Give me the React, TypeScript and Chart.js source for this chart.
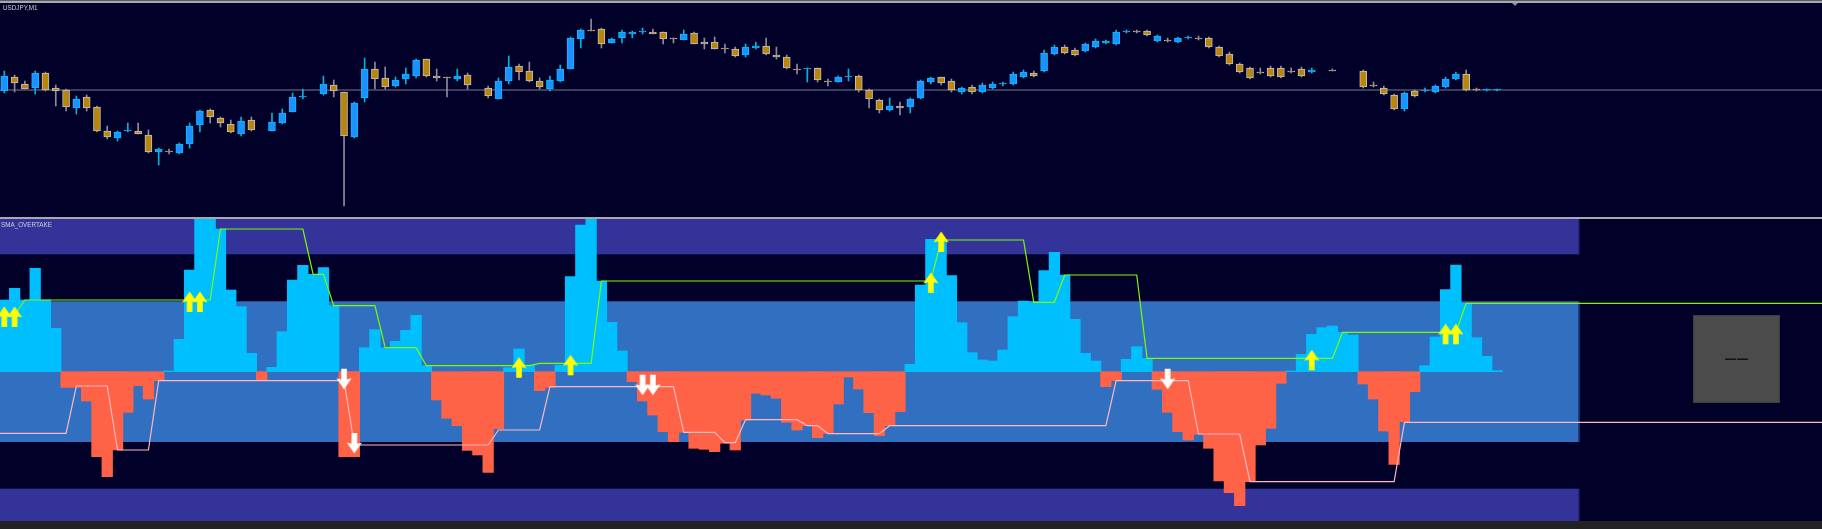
import React, { useEffect, useRef } from "react";
import { Chart, registerables } from "chart.js";
Chart.register(...registerables);

// ---------------- data ----------------
const symbolLabel = "USDJPY,M1";
const indicatorLabel = "SMA_OVERTAKE";
const panelText = "——";

// null = no visible candle at that bar
const openP = [
110.213,110.227,110.220,110.216,110.231,110.216,110.214,110.196,110.207,110.197,
110.173,110.166,110.173,110.173,110.169,110.152,110.153,110.151,110.160,110.179,
110.194,110.186,110.180,110.170,110.184,null,110.173,110.181,110.192,110.207,
null,110.210,110.219,110.212,110.167,110.206,110.235,110.226,110.218,110.225,
110.228,110.245,110.228,110.227,110.225,110.229,null,110.216,110.205,110.223,
110.238,110.233,110.223,110.215,110.223,110.235,110.265,110.274,110.275,110.261,
110.266,110.270,110.272,110.272,110.272,110.266,110.264,110.271,110.262,110.262,
110.256,110.255,110.249,110.256,110.258,110.249,110.247,110.235,110.235,110.236,
110.223,110.222,110.227,110.228,110.214,110.204,110.194,110.198,110.197,110.206,
110.222,110.227,110.223,110.212,110.217,110.212,110.216,110.220,110.220,110.227,
110.231,110.233,110.250,110.257,110.254,110.253,110.257,110.261,110.260,110.272,
110.273,110.273,110.263,110.264,110.262,110.266,110.266,110.266,110.257,110.250,
110.240,110.236,110.232,110.236,110.236,110.233,110.235,110.232,null,110.234,
null,null,110.233,110.219,110.216,110.209,110.195,110.213,110.213,110.212,
110.217,110.225,110.230,110.215,110.214,110.214];
const highP = [
110.233,110.229,110.223,110.233,110.232,110.219,110.215,110.208,110.209,110.198,
110.178,110.173,110.181,110.181,110.174,110.156,110.155,110.161,110.181,110.194,
110.195,110.187,110.184,110.187,110.187,null,110.191,110.195,110.211,110.215,
null,110.228,110.224,110.212,110.202,110.246,110.242,110.237,110.227,110.236,
110.245,110.245,110.235,110.227,110.235,110.231,null,110.218,110.226,110.248,
110.240,110.242,110.226,110.228,110.239,110.267,110.275,110.285,110.276,110.266,
110.274,110.273,110.276,110.275,110.272,110.266,110.274,110.272,110.266,110.267,
110.260,110.257,110.260,110.262,110.266,110.257,110.249,110.240,110.236,110.236,
110.225,110.228,110.235,110.229,110.215,110.205,110.206,110.202,110.206,110.224,
110.227,110.227,110.225,110.217,110.219,110.221,110.222,110.222,110.232,110.234,
110.233,110.254,110.259,110.259,110.256,110.261,110.265,110.264,110.274,110.274,
110.274,110.274,110.269,110.266,110.267,110.268,110.268,110.267,110.258,110.252,
110.241,110.237,110.236,110.238,110.238,110.236,110.237,110.236,null,110.235,
null,null,110.234,110.222,110.218,110.210,110.212,110.214,110.216,110.219,
110.227,110.232,110.234,110.216,110.215,110.215];
const lowP = [
110.211,110.212,110.215,110.210,110.213,110.198,110.193,110.190,110.193,110.172,
110.165,110.163,110.172,110.170,110.151,110.139,110.150,110.150,110.156,110.172,
110.181,110.177,110.171,110.168,110.173,null,110.173,110.180,110.192,110.205,
null,110.209,110.207,110.098,110.166,110.202,110.215,110.215,110.217,110.220,
110.226,110.227,110.223,110.207,110.223,110.215,null,110.206,110.205,110.220,
110.224,110.222,110.215,110.213,110.222,110.235,110.256,110.273,110.256,110.261,
110.261,110.266,110.270,110.270,110.260,110.261,110.264,110.260,110.255,110.255,
110.251,110.247,110.247,110.255,110.249,110.245,110.235,110.230,110.222,110.222,
110.218,110.222,110.223,110.212,110.196,110.191,110.193,110.189,110.191,110.205,
110.220,110.219,110.212,110.210,110.210,110.211,110.215,110.218,110.219,110.226,
110.227,110.232,110.249,110.250,110.248,110.252,110.256,110.260,110.259,110.271,
110.271,110.268,110.262,110.262,110.261,110.265,110.264,110.256,110.247,110.239,
110.231,110.225,110.230,110.227,110.226,110.231,110.227,110.231,null,110.233,
null,null,110.216,110.217,110.209,110.194,110.193,110.207,110.212,110.211,
110.216,110.224,110.213,110.213,110.213,110.213];
const closeP = [
110.228,110.221,110.215,110.231,110.214,110.213,110.197,110.205,110.196,110.173,
110.167,110.172,110.174,110.170,110.152,110.155,110.152,110.160,110.178,110.193,
110.187,110.181,110.172,110.183,110.174,null,110.182,110.191,110.207,110.208,
null,110.220,110.213,110.168,110.201,110.235,110.225,110.217,110.224,110.230,
110.244,110.228,110.226,110.226,110.228,110.219,null,110.208,110.223,110.237,
110.232,110.223,110.217,110.224,110.235,110.266,110.274,110.273,110.260,110.265,
110.272,110.272,110.273,110.270,110.265,110.265,110.270,110.260,110.260,110.255,
110.255,110.248,110.257,110.258,110.250,110.247,110.236,110.234,110.236,110.224,
110.222,110.227,110.228,110.214,110.205,110.194,110.198,110.196,110.205,110.223,
110.226,110.221,110.214,110.216,110.212,110.219,110.220,110.221,110.230,110.232,
110.228,110.251,110.257,110.251,110.249,110.260,110.263,110.263,110.272,110.273,
110.272,110.269,110.268,110.263,110.266,110.267,110.265,110.257,110.248,110.240,
110.232,110.226,110.231,110.228,110.227,110.232,110.228,110.234,null,110.233,
null,null,110.217,110.218,110.210,110.195,110.211,110.208,110.214,110.218,
110.225,110.230,110.214,110.214,110.215,110.215];
const bidPrice = 110.214;

const histogram = [
71.7,83.4,71.7,103.4,71.7,43.4,-15.7,-15.7,-29.3,-85,
-105,-78.3,-40.6,-14,-27.3,-9,0.7,32.4,101.7,155,
155,142.7,81.7,65,18.4,-9,4.4,40,91.7,106.4,
97.4,104,66,-85,-85,24,42,24,30.4,41.4,
56.4,6,-28.3,-46.6,-54,-78.6,-83.3,-100.6,-57,4,
22.7,6.7,-19,-15.7,6.7,95,146.7,155,90.7,49.4,
20.7,-10,-29.3,-43.3,-60,-70,-60.6,-76.6,-77.6,-80,
-71.6,-78.3,-48.3,-21.6,-23.3,-26.6,-50.6,-58.3,-54,-66,
-61.6,-32.3,-5.3,-17.3,-41,-64,-54,-40,7.4,86.7,
132.4,132.4,96,49,19,11.7,10.7,21.7,55,70.7,
70,101,119.4,96.7,52.4,18.4,10.7,-15,-9,12.4,
25,13.4,-17.6,-40.6,-60,-68.3,-62.6,-76.6,-109.3,-121,
-134,-110,-73.3,-56.6,-11.6,0.7,17.4,37.4,44,45.7,
39.4,36.7,-12.3,-27.3,-59.3,-92.6,-50,-20,6,34.7,
82,106.7,68.4,34,15.4,1];

const greenLine = [
56.7,56.7,71.7,71.7,71.7,71.7,71.7,71.7,71.7,71.7,
71.7,71.7,71.7,71.7,71.7,71.7,71.7,71.7,71.7,71.7,
71.7,142.7,142.7,142.7,142.7,142.7,142.7,142.7,142.7,142.7,
97.4,97.4,66,66,66,66,66,24,24,24,
24,6,6,6,6,6,6,6,6,6,
6,6,8.4,8.4,8.4,8.4,8.4,8.4,90.7,90.7,
90.7,90.7,90.7,90.7,90.7,90.7,90.7,90.7,90.7,90.7,
90.7,90.7,90.7,90.7,90.7,90.7,90.7,90.7,90.7,90.7,
90.7,90.7,90.7,90.7,90.7,90.7,90.7,90.7,90.7,90.7,
90.7,131.7,131.7,131.7,131.7,131.7,131.7,131.7,131.7,131.7,
69.4,69.4,69.4,96.7,96.7,96.7,96.7,96.7,96.7,96.7,
96.7,13.4,13.4,13.4,13.4,13.4,13.4,13.4,13.4,13.4,
13.4,13.4,13.4,13.4,13.4,13.4,13.4,13.4,13.4,13.4,
39.4,39.4,39.4,39.4,39.4,39.4,39.4,39.4,39.4,39.4,
39.4,39.4,68.4,68.4,68.4,68.4];

const pinkLine = [
-61.6,-61.6,-61.6,-61.6,-61.6,-61.6,-61.6,-14.3,-14.3,-14.3,
-14.3,-78.3,-78.3,-78.3,-78.3,-9,-9,-9,-9,-9,
-9,-9,-9,-9,-9,-9,-9,-9,-9,-9,
-9,-9,-9,-9,-73.3,-73.3,-73.3,-73.3,-73.3,-73.3,
-73.3,-73.3,-73.3,-73.3,-73.3,-73.3,-73.3,-73.3,-58.3,-58.3,
-58.3,-58.3,-58.3,-15,-15,-15,-15,-15,-15,-15,
-15,-15,-15,-15,-15,-15,-60.6,-60.6,-60.6,-60.6,
-71,-71,-48,-48,-48,-48,-48,-48,-54,-54,
-62,-62,-62,-62,-62,-62,-54,-54,-54,-54,
-54,-54,-54,-54,-54,-54,-54,-54,-54,-54,
-54,-54,-54,-54,-54,-54,-54,-54,-9,-9,
-9,-9,-9,-9,-9,-9,-62.3,-62.3,-62.3,-62.3,
-62.3,-110,-110,-110,-110,-110,-110,-110,-110,-110,
-110,-110,-110,-110,-110,-110,-50.6,-50.6,-50.6,-50.6,
-50.6,-50.6,-50.6,-50.6,-50.6,-50.6];

const upSignals = [0, 1, 18, 19, 50, 55, 90, 91, 127, 140, 141];
const downSignals = [33, 34, 62, 63, 113];

const bandLevels = [117.7, 70.4, -70.3, -117.3];
const bandEndBar = 153;

// ---------------- layout / style ----------------
const W = 1822;
const H = 529;
const STEP = 10.295;
const FIRST_X = 4.3;
const X_MIN = -FIRST_X / STEP;
const X_MAX = X_MIN + W / STEP;
const TOP_Y = 4;
const TOP_H = 212;
const IND_Y = 219;
const IND_H = 302;
const PRICE_MAX = 110.3;
const PRICE_MIN = 110.088;
const IND_MAX = 152.7;
const IND_MIN = -149.3;

const BG = "#000028";
const BULL_FILL = "#1E90FF";
const BULL_EDGE = "#00BFFF";
const BEAR_FILL = "#B8860B";
const BEAR_EDGE = "#C8C0C0";
const BULL_WICK = "#00B4D8";
const BEAR_WICK = "#9088A0";

function makeArrow(color: string, up: boolean): HTMLCanvasElement {
  const c = document.createElement("canvas");
  c.width = 18;
  c.height = 44;
  const ctx = c.getContext("2d")!;
  const cx = 9;
  const cy = 22;
  const s = up ? 1 : -1;
  ctx.fillStyle = color;
  ctx.beginPath();
  ctx.moveTo(cx, cy - 8.5 * s);
  ctx.lineTo(cx + 7.6, cy + 2.5 * s);
  ctx.lineTo(cx + 2.8, cy + 1.2 * s);
  ctx.lineTo(cx + 2.8, cy + 12 * s);
  ctx.lineTo(cx - 2.8, cy + 12 * s);
  ctx.lineTo(cx - 2.8, cy + 1.2 * s);
  ctx.lineTo(cx - 7.6, cy + 2.5 * s);
  ctx.closePath();
  ctx.fill();
  return c;
}

const bandsPlugin = {
  id: "bands",
  beforeDatasetsDraw(chart: any) {
    const { ctx, chartArea, scales } = chart;
    const x = scales.x;
    const y = scales.y;
    const x0 = chartArea.left;
    const x1 = x.getPixelForValue(bandEndBar);
    const yA = y.getPixelForValue(bandLevels[0]);
    const yB = y.getPixelForValue(bandLevels[1]);
    const yC = y.getPixelForValue(bandLevels[2]);
    const yD = y.getPixelForValue(bandLevels[3]);
    ctx.save();
    ctx.fillStyle = "#333399";
    ctx.fillRect(x0, chartArea.top, x1 - x0, yA - chartArea.top);
    ctx.fillRect(x0, yD, x1 - x0, chartArea.bottom - yD);
    ctx.fillStyle = "#3170C0";
    ctx.fillRect(x0, yB, x1 - x0, yC - yB);
    ctx.strokeStyle = "rgba(20,30,90,0.6)";
    ctx.lineWidth = 1;
    ctx.beginPath();
    ctx.moveTo(x0, Math.round(yA) + 0.5); ctx.lineTo(x1, Math.round(yA) + 0.5);
    ctx.moveTo(x0, Math.round(yD) - 0.5); ctx.lineTo(x1, Math.round(yD) - 0.5);
    ctx.moveTo(Math.round(x1) - 0.5, chartArea.top); ctx.lineTo(Math.round(x1) - 0.5, yA);
    ctx.moveTo(Math.round(x1) - 0.5, yD); ctx.lineTo(Math.round(x1) - 0.5, chartArea.bottom);
    ctx.moveTo(Math.round(x1) - 0.5, yB); ctx.lineTo(Math.round(x1) - 0.5, yC);
    ctx.stroke();
    ctx.restore();
  },
};

export default function App() {
  const topRef = useRef<HTMLCanvasElement>(null);
  const indRef = useRef<HTMLCanvasElement>(null);

  useEffect(() => {
    const upArrow = makeArrow("#FFFF00", true);
    const downArrow = makeArrow("#FFFFFF", false);
    const idx = openP.map((o, i) => i).filter((i) => openP[i] !== null);
    const bull = (i: number) => (closeP[i] as number) >= (openP[i] as number);

    const xScale = {
      type: "linear",
      min: X_MIN,
      max: X_MAX,
      display: false,
      offset: false,
      grid: { offset: false, display: false },
    };

    const commonOptions = {
      responsive: false,
      animation: false,
      devicePixelRatio: 1,
      events: [],
      layout: { padding: 0, autoPadding: false },
      plugins: { legend: { display: false }, tooltip: { enabled: false } },
    };

    const topChart = new Chart(topRef.current!, {
      type: "bar",
      data: {
        datasets: [
          {
            type: "bar",
            data: idx.map((i) => ({ x: i, y: [openP[i], closeP[i]] })),
            backgroundColor: idx.map((i) => (bull(i) ? BULL_FILL : BEAR_FILL)),
            borderColor: idx.map((i) => (bull(i) ? BULL_EDGE : BEAR_EDGE)),
            borderWidth: 1,
            borderSkipped: false,
            barThickness: 7,
            minBarLength: 1,
            grouped: false,
            order: 1,
          },
          {
            type: "bar",
            data: idx.map((i) => ({ x: i, y: [lowP[i], highP[i]] })),
            backgroundColor: idx.map((i) => (bull(i) ? BULL_WICK : BEAR_WICK)),
            borderWidth: 0,
            barThickness: 1,
            minBarLength: 1,
            grouped: false,
            order: 2,
          },
          {
            type: "line",
            data: [
              { x: X_MIN, y: bidPrice },
              { x: X_MAX, y: bidPrice },
            ],
            borderColor: "#7a7a8c",
            borderWidth: 1,
            pointRadius: 0,
            order: 3,
          },
        ],
      } as any,
      options: {
        ...commonOptions,
        scales: {
          x: xScale as any,
          y: { type: "linear", min: PRICE_MIN, max: PRICE_MAX, display: false, grid: { display: false } },
        },
      } as any,
    });

    // lines run from the left edge of the window to the right edge
    const ext = (arr: number[]) => [
      { x: X_MIN, y: arr[0] },
      ...arr.map((v, i) => ({ x: i, y: v })),
      { x: X_MAX, y: arr[arr.length - 1] },
    ];

    const indChart = new Chart(indRef.current!, {
      type: "bar",
      data: {
        datasets: [
          {
            type: "line",
            data: upSignals.map((i) => ({ x: i, y: greenLine[i] })),
            showLine: false,
            pointStyle: upArrow,
            pointRadius: 8,
            order: 0,
          },
          {
            type: "line",
            data: downSignals.map((i) => ({ x: i, y: pinkLine[i] })),
            showLine: false,
            pointStyle: downArrow,
            pointRadius: 8,
            order: 0,
          },
          {
            type: "line",
            data: ext(greenLine),
            borderColor: "#7CFC00",
            borderWidth: 1.2,
            pointRadius: 0,
            tension: 0,
            order: 1,
          },
          {
            type: "line",
            data: ext(pinkLine),
            borderColor: "#FFB6C1",
            borderWidth: 1.2,
            pointRadius: 0,
            tension: 0,
            order: 1,
          },
          {
            type: "bar",
            data: histogram.map((v, i) => ({ x: i, y: v })),
            backgroundColor: histogram.map((v) => (v >= 0 ? "#00BFFF" : "#FF6347")),
            borderWidth: 0,
            barThickness: STEP + 0.3,
            grouped: false,
            order: 2,
          },
        ],
      } as any,
      options: {
        ...commonOptions,
        scales: {
          x: xScale as any,
          y: { type: "linear", min: IND_MIN, max: IND_MAX, display: false, grid: { display: false } },
        },
      } as any,
      plugins: [bandsPlugin],
    });

    return () => {
      topChart.destroy();
      indChart.destroy();
    };
  }, []);

  const labelStyle: React.CSSProperties = {
    position: "absolute",
    fontFamily: '"Liberation Sans", Arial, sans-serif',
    fontSize: "6.3px",
    lineHeight: "6px",
    color: "#d0d0d8",
    whiteSpace: "nowrap",
  };

  return (
    <div
      style={{
        position: "absolute",
        left: 0,
        top: 0,
        width: W,
        height: H,
        background: BG,
        overflow: "hidden",
      }}
    >
      <div style={{ position: "absolute", left: 0, top: 0, width: W, height: 1, background: "#5a5a62" }} />
      <div style={{ position: "absolute", left: 0, top: 1, width: W, height: 2, background: "#a8a8b0" }} />
      <canvas
        ref={topRef}
        width={W}
        height={TOP_H}
        style={{ position: "absolute", left: 0, top: TOP_Y, width: W, height: TOP_H }}
      />
      <div
        style={{
          position: "absolute",
          left: 1512,
          top: 3,
          width: 0,
          height: 0,
          borderLeft: "3px solid transparent",
          borderRight: "3px solid transparent",
          borderTop: "3px solid #8a8aa0",
        }}
      />
      <div style={{ ...labelStyle, left: 3, top: 5 }}>{symbolLabel}</div>
      <div style={{ position: "absolute", left: 0, top: 217, width: W, height: 2, background: "#a8a8b0" }} />
      <canvas
        ref={indRef}
        width={W}
        height={IND_H}
        style={{ position: "absolute", left: 0, top: IND_Y, width: W, height: IND_H }}
      />
      <div style={{ ...labelStyle, left: 1, top: 221.5 }}>{indicatorLabel}</div>
      <div
        style={{
          position: "absolute",
          left: 1693,
          top: 315,
          width: 85,
          height: 86,
          background: "#4B4B4B",
          border: "1px solid #3e3e3e",
          display: "flex",
          alignItems: "center",
          justifyContent: "center",
        }}
      >
        <span
          style={{
            fontFamily: '"DejaVu Sans", sans-serif',
            fontWeight: "bold",
            fontSize: "12px",
            color: "#111111",
            lineHeight: "12px",
          }}
        >
          {panelText}
        </span>
      </div>
      <div style={{ position: "absolute", left: 0, top: 521, width: W, height: 8, background: "#222222" }} />
    </div>
  );
}
